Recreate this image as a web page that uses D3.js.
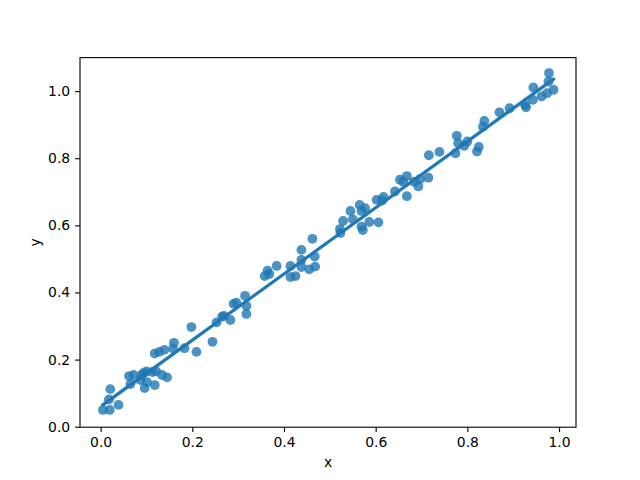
<!DOCTYPE html>
<html>
<head>
<meta charset="utf-8">
<script src="https://cdn.jsdelivr.net/npm/d3@7"></script>
<style>
  body { margin: 0; background: #fff; }
  svg text { font-family: "DejaVu Sans", sans-serif; fill: #000; }
</style>
</head>
<body>
<div id="chart"></div>
<script>
// scatter points
const xs = [0.005, 0.020, 0.039, 0.018, 0.021, 0.062, 0.072, 0.065, 0.087, 0.089,
  0.094, 0.100, 0.096, 0.101, 0.118, 0.113, 0.121, 0.134, 0.145, 0.118,
  0.128, 0.139, 0.160, 0.158, 0.183, 0.198, 0.209, 0.244, 0.253, 0.265,
  0.269, 0.283, 0.290, 0.296, 0.315, 0.318, 0.318, 0.358, 0.364, 0.368,
  0.384, 0.414, 0.414, 0.425, 0.438, 0.438, 0.438, 0.455, 0.468, 0.467,
  0.462, 0.522, 0.523, 0.529, 0.545, 0.550, 0.565, 0.569, 0.577, 0.569,
  0.572, 0.586, 0.602, 0.606, 0.614, 0.617, 0.642, 0.653, 0.660, 0.668,
  0.668, 0.684, 0.693, 0.697, 0.715, 0.716, 0.739, 0.774, 0.777, 0.780,
  0.793, 0.800, 0.821, 0.825, 0.834, 0.837, 0.870, 0.892, 0.926, 0.928,
  0.943, 0.944, 0.962, 0.974, 0.988, 0.977, 0.978];
const ys = [0.050, 0.050, 0.065, 0.081, 0.112, 0.151, 0.154, 0.127, 0.139, 0.154,
  0.160, 0.165, 0.115, 0.133, 0.124, 0.163, 0.165, 0.154, 0.147, 0.218,
  0.223, 0.229, 0.250, 0.233, 0.234, 0.297, 0.223, 0.253, 0.311, 0.328,
  0.330, 0.318, 0.366, 0.370, 0.390, 0.360, 0.336, 0.449, 0.465, 0.455,
  0.479, 0.479, 0.446, 0.449, 0.527, 0.497, 0.476, 0.469, 0.477, 0.507,
  0.560, 0.589, 0.577, 0.613, 0.643, 0.618, 0.661, 0.643, 0.651, 0.596,
  0.586, 0.610, 0.676, 0.609, 0.674, 0.685, 0.701, 0.736, 0.730, 0.747,
  0.687, 0.730, 0.716, 0.738, 0.742, 0.809, 0.819, 0.815, 0.867, 0.845,
  0.837, 0.850, 0.820, 0.834, 0.894, 0.911, 0.937, 0.949, 0.959, 0.952,
  0.974, 1.011, 0.984, 0.994, 1.004, 1.029, 1.054];

const xTicks = [0.0, 0.2, 0.4, 0.6, 0.8, 1.0];
const yTicks = [0.0, 0.2, 0.4, 0.6, 0.8, 1.0];

const W = 640, H = 480;
const margin = { top: 57.6, right: 64, bottom: 52.8, left: 80 };
const color = "#1f77b4";

const svg = d3.select("#chart").append("svg")
  .attr("width", W).attr("height", H);

const x = d3.scaleLinear().domain([-0.045, 1.037]).range([margin.left, W - margin.right]);
const y = d3.scaleLinear().domain([-0.0015, 1.1]).range([H - margin.bottom, margin.top]);

const pts = xs.map((v, i) => ({ x: v, y: ys[i] }));

// least squares fit + 95% band
const n = pts.length;
const mx = d3.mean(xs), my = d3.mean(ys);
const sxx = d3.sum(xs, v => (v - mx) * (v - mx));
const sxy = d3.sum(pts, p => (p.x - mx) * (p.y - my));
const b = sxy / sxx, a = my - b * mx;
const s = Math.sqrt(d3.sum(pts, p => (p.y - a - b * p.x) ** 2) / (n - 2));
const [x0, x1] = d3.extent(xs);
const grid = d3.range(0, 101).map(i => x0 + (x1 - x0) * i / 100);
const band = grid.map(g => {
  const se = s * Math.sqrt(1 / n + (g - mx) ** 2 / sxx);
  return { x: g, lo: a + b * g - 1.985 * se, hi: a + b * g + 1.985 * se };
});

svg.append("path")
  .datum(band)
  .attr("fill", color).attr("fill-opacity", 0.15)
  .attr("d", d3.area().x(d => x(d.x)).y0(d => y(d.lo)).y1(d => y(d.hi)));

svg.append("g").selectAll("circle")
  .data(pts)
  .join("circle")
  .attr("cx", d => x(d.x))
  .attr("cy", d => y(d.y))
  .attr("r", 4.9)
  .attr("fill", color)
  .attr("fill-opacity", 0.8);

svg.append("line")
  .attr("x1", x(x0)).attr("y1", y(a + b * x0))
  .attr("x2", x(x1)).attr("y2", y(a + b * x1))
  .attr("stroke", color).attr("stroke-width", 3.1)
  .attr("stroke-linecap", "square");

// axes
const xAxis = svg.append("g")
  .attr("transform", `translate(0,${H - margin.bottom})`)
  .call(d3.axisBottom(x).tickValues(xTicks).tickFormat(d3.format(".1f"))
    .tickSize(4.9).tickPadding(4.9));
const yAxis = svg.append("g")
  .attr("transform", `translate(${margin.left},0)`)
  .call(d3.axisLeft(y).tickValues(yTicks).tickFormat(d3.format(".1f"))
    .tickSize(4.9).tickPadding(4.9));

[xAxis, yAxis].forEach(ax => {
  ax.select(".domain").remove();
  ax.selectAll(".tick line").attr("stroke", "#000").attr("stroke-width", 1.1);
  ax.selectAll(".tick text").style("font-size", "13.9px").attr("fill", "#000");
});

svg.append("rect")
  .attr("x", margin.left).attr("y", margin.top)
  .attr("width", W - margin.left - margin.right)
  .attr("height", H - margin.top - margin.bottom)
  .attr("fill", "none").attr("stroke", "#000").attr("stroke-width", 1.1);

svg.append("text")
  .attr("x", (margin.left + W - margin.right) / 2)
  .attr("y", 467)
  .attr("text-anchor", "middle")
  .style("font-size", "13.9px")
  .text("x");

svg.append("text")
  .attr("transform", `translate(40,${(margin.top + H - margin.bottom) / 2}) rotate(-90)`)
  .attr("text-anchor", "middle")
  .style("font-size", "13.9px")
  .text("y");
</script>
</body>
</html>
